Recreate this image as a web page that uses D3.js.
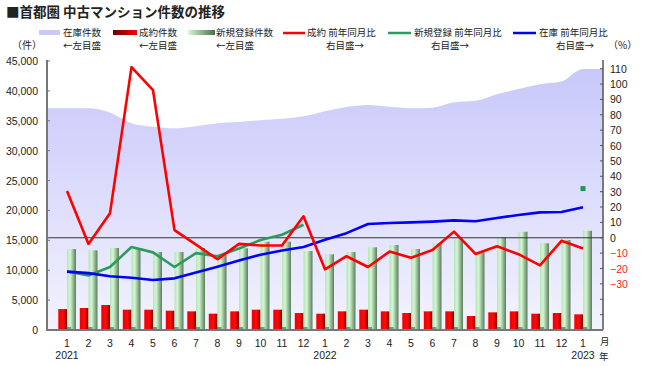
<!DOCTYPE html>
<html lang="ja">
<head>
<meta charset="utf-8">
<title>首都圏 中古マンション件数の推移</title>
<script src="https://d3js.org/d3.v7.min.js"></script>
<style>
    body { margin: 0; background: #fff; }
    svg text { font-family: "Noto Sans CJK JP", "Liberation Sans", sans-serif; fill: #222; }
    .num { font-family: "Liberation Sans", Arial, sans-serif; font-size: 10.5px; }
</style>
</head>
<body>
<div id="chart"></div>
<script>
    // month labels, Jan 2021 .. Jan 2023
    var months = ["1","2","3","4","5","6","7","8","9","10","11","12",
                  "1","2","3","4","5","6","7","8","9","10","11","12","1"];
    var years = [[0, "2021"], [12, "2022"], [24, "2023"]];

    // 在庫件数 (left axis)
    var stock = [37100, 37100, 36400, 34600, 34000, 33750, 34100, 34600, 34800, 35100, 35350, 35750,
                 36600, 37300, 37650, 37350, 37100, 37200, 38100, 38350, 39450, 40300, 41100, 41550, 43650];
    // 成約件数 (left axis)
    var deals = [3500, 3680, 4180, 3400, 3400, 3230, 3120, 2730, 3120, 3400, 3400, 2840,
                 2730, 3120, 3400, 3120, 2840, 3120, 3120, 2340, 2950, 3120, 2730, 2840, 2620];
    // 新規登録件数 (left axis)
    var listings = [13550, 13330, 13720, 13500, 13050, 13050, 13720, 12550, 13660, 14770, 14770, 13220,
                    12660, 13050, 13830, 14220, 13550, 14500, 15340, 13100, 15500, 16440, 14500, 15050, 16600];
    // 前年同月比 (right axis, %)
    var dealsYoY = [30.5, -4, 16, 111, 96, 5, -4.5, -14, -4, -5, -5, 14,
                    -20.5, -12, -19, -9, -13, -8, 4, -10.5, -5.5, -10.7, -18, -2, -7];
    var listingsYoY = [-22, -24.5, -19, -6, -9.5, -19, -10, -12, -7, -1.5, 2, 8.5,
                       null, null, null, null, null, null, null, null, null, null, null, null, 32];
    var stockYoY = [-22, -23, -25, -26, -27.5, -26.4, -22.6, -18.8, -14.8, -11, -8.3, -6,
                    -1.3, 3, 9, 9.6, 10, 10.5, 11.3, 10.7, 12.9, 14.8, 16.5, 16.8, 19.8];

    var leftTicks = d3.range(0, 45001, 5000);
    var rightTicks = d3.range(-60, 111, 10);

    var W = 650, H = 366;
    var plotL = 47, plotR = 603, plotT = 61, plotB = 330;

    var svg = d3.select("#chart").append("svg")
        .attr("width", W)
        .attr("height", H);

    var defs = svg.append("defs");

    var areaGrad = defs.append("linearGradient").attr("id", "areaGrad")
        .attr("x1", 0).attr("y1", 0).attr("x2", 0).attr("y2", 1);
    areaGrad.append("stop").attr("offset", "0%").attr("stop-color", "#c8c8fa");
    areaGrad.append("stop").attr("offset", "100%").attr("stop-color", "#f3f3ff");

    var redGrad = defs.append("linearGradient").attr("id", "redGrad")
        .attr("x1", 0).attr("y1", 0).attr("x2", 1).attr("y2", 0);
    redGrad.append("stop").attr("offset", "0%").attr("stop-color", "#ee0000");
    redGrad.append("stop").attr("offset", "55%").attr("stop-color", "#ff0a0a");
    redGrad.append("stop").attr("offset", "100%").attr("stop-color", "#8a0000");

    var greenGrad = defs.append("linearGradient").attr("id", "greenGrad")
        .attr("x1", 0).attr("y1", 0).attr("x2", 1).attr("y2", 0);
    greenGrad.append("stop").attr("offset", "0%").attr("stop-color", "#b4e6b4");
    greenGrad.append("stop").attr("offset", "35%").attr("stop-color", "#d4f6d4");
    greenGrad.append("stop").attr("offset", "100%").attr("stop-color", "#587e58");

    var legRed = defs.append("linearGradient").attr("id", "legRed")
        .attr("x1", 0).attr("y1", 0).attr("x2", 1).attr("y2", 0);
    legRed.append("stop").attr("offset", "0%").attr("stop-color", "#6a0000");
    legRed.append("stop").attr("offset", "100%").attr("stop-color", "#ff0000");

    var legGreen = defs.append("linearGradient").attr("id", "legGreen")
        .attr("x1", 0).attr("y1", 0).attr("x2", 1).attr("y2", 0);
    legGreen.append("stop").attr("offset", "0%").attr("stop-color", "#d8f8d8");
    legGreen.append("stop").attr("offset", "100%").attr("stop-color", "#4a6e4a");

    var x = d3.scalePoint()
        .domain(d3.range(months.length))
        .range([plotL, plotR])
        .padding(0.93);

    var y = d3.scaleLinear().domain([0, 45000]).range([plotB, plotT]);
    var y2 = d3.scaleLinear().domain([-60, 115]).range([plotB, plotT]);

    // title
    svg.append("text")
        .attr("x", 6).attr("y", 17)
        .style("font-size", "13.5px").style("font-weight", "bold")
        .text("■首都圏 中古マンション件数の推移");

    // inventory area (extends flat to both axes)
    var areaPts = [[plotL, stock[0]]]
        .concat(stock.map(function(d, i) { return [x(i), d]; }))
        .concat([[plotR, stock[stock.length - 1]]]);
    var area = d3.area()
        .x(function(d) { return d[0]; })
        .y0(plotB)
        .y1(function(d) { return y(d[1]); })
        .curve(d3.curveMonotoneX);
    svg.append("path")
        .datum(areaPts)
        .attr("d", area)
        .attr("fill", "url(#areaGrad)");

    // bars
    var bars = svg.append("g");
    bars.selectAll("rect.deal")
        .data(deals)
        .enter().append("rect")
        .attr("class", "deal")
        .attr("x", function(d, i) { return x(i) - 8.7; })
        .attr("width", 8.7)
        .attr("y", function(d) { return y(d); })
        .attr("height", function(d) { return plotB - y(d); })
        .attr("fill", "url(#redGrad)");
    bars.selectAll("rect.list")
        .data(listings)
        .enter().append("rect")
        .attr("class", "list")
        .attr("x", function(d, i) { return x(i); })
        .attr("width", 9)
        .attr("y", function(d) { return y(d); })
        .attr("height", function(d) { return plotB - y(d); })
        .attr("fill", "url(#greenGrad)");
    // dark base shadow
    bars.selectAll("rect.base")
        .data(listings)
        .enter().append("rect")
        .attr("class", "base")
        .attr("x", function(d, i) { return x(i) - 1; })
        .attr("width", 5)
        .attr("y", plotB - 3)
        .attr("height", 3)
        .attr("fill", "#3a4a3a")
        .attr("opacity", 0.55);

    // 0% line
    svg.append("line")
        .attr("x1", plotL).attr("x2", plotR)
        .attr("y1", y2(0)).attr("y2", y2(0))
        .attr("stroke", "#333").attr("stroke-width", 1.2);

    // YoY lines
    function drawLine(data, color) {
        var line = d3.line()
            .defined(function(d) { return d != null; })
            .x(function(d, i) { return x(i); })
            .y(function(d) { return y2(d); });
        svg.append("path")
            .datum(data)
            .attr("d", line)
            .attr("fill", "none")
            .attr("stroke", color)
            .attr("stroke-width", 2.6)
            .attr("stroke-linejoin", "round");
    }
    drawLine(listingsYoY.slice(0, 12), "#2e9a5e");
    drawLine(stockYoY, "#0000ff");
    drawLine(dealsYoY, "#ff0000");

    // lone listing YoY point
    var last = listingsYoY.length - 1;
    svg.append("rect")
        .attr("x", x(last) - 2.5).attr("y", y2(listingsYoY[last]) - 2.5)
        .attr("width", 5).attr("height", 5)
        .attr("fill", "#1a9a50");

    // left axis
    svg.append("line")
        .attr("x1", plotL).attr("x2", plotL).attr("y1", plotT - 1).attr("y2", plotB)
        .attr("stroke", "#777").attr("stroke-width", 2);
    svg.selectAll("line.lt")
        .data(leftTicks)
        .enter().append("line")
        .attr("class", "lt")
        .attr("x1", plotL).attr("x2", plotL + 3)
        .attr("y1", function(d) { return y(d); })
        .attr("y2", function(d) { return y(d); })
        .attr("stroke", "#777");
    svg.selectAll("text.lt")
        .data(leftTicks)
        .enter().append("text")
        .attr("class", "num lt")
        .attr("x", 38)
        .attr("y", function(d) { return y(d) + 4; })
        .attr("text-anchor", "end")
        .text(d3.format(","));

    // right axis
    svg.append("line")
        .attr("x1", plotR).attr("x2", plotR).attr("y1", plotT - 1).attr("y2", plotB)
        .attr("stroke", "#555").attr("stroke-width", 1.5);
    svg.selectAll("line.rt")
        .data(rightTicks)
        .enter().append("line")
        .attr("class", "rt")
        .attr("x1", plotR - 3).attr("x2", plotR)
        .attr("y1", function(d) { return y2(d); })
        .attr("y2", function(d) { return y2(d); })
        .attr("stroke", "#555");
    svg.selectAll("text.rt")
        .data(rightTicks.filter(function(d) { return d >= -30; }))
        .enter().append("text")
        .attr("class", "num rt")
        .attr("x", 610)
        .attr("y", function(d) { return y2(d) + 4; })
        .style("fill", function(d) { return d < 0 ? "#ff2020" : "#222"; })
        .text(function(d) { return d < 0 ? "\u2212" + (-d) : d; });

    // x axis
    svg.append("line")
        .attr("x1", plotL - 1).attr("x2", plotR).attr("y1", plotB).attr("y2", plotB)
        .attr("stroke", "#777").attr("stroke-width", 2);
    svg.selectAll("text.mon")
        .data(months)
        .enter().append("text")
        .attr("class", "num mon")
        .attr("x", function(d, i) { return x(i); })
        .attr("y", 347)
        .attr("text-anchor", "middle")
        .text(function(d) { return d; });
    svg.selectAll("text.yr")
        .data(years)
        .enter().append("text")
        .attr("class", "num yr")
        .attr("x", function(d) { return x(d[0]); })
        .attr("y", 359)
        .attr("text-anchor", "middle")
        .text(function(d) { return d[1]; });
    svg.append("text").attr("x", 600).attr("y", 345).style("font-size", "9.5px").text("月");
    svg.append("text").attr("x", 599).attr("y", 360).style("font-size", "9.5px").text("年");

    // unit labels
    svg.append("text").attr("x", 12).attr("y", 49).style("font-size", "10px").text("（件）");
    svg.append("text").attr("x", 608).attr("y", 49).style("font-size", "10px").text("（%）");

    // legend
    var lg = svg.append("g").style("font-size", "9.5px");
    lg.append("rect").attr("x", 39).attr("y", 30).attr("width", 21).attr("height", 5).attr("fill", "#c8c8fa");
    lg.append("rect").attr("x", 113).attr("y", 30).attr("width", 24).attr("height", 5).attr("fill", "url(#legRed)");
    lg.append("rect").attr("x", 188).attr("y", 30).attr("width", 27).attr("height", 5).attr("fill", "url(#legGreen)");
    lg.append("line").attr("x1", 283).attr("x2", 305).attr("y1", 33).attr("y2", 33).attr("stroke", "#ff0000").attr("stroke-width", 2.5);
    lg.append("line").attr("x1", 388).attr("x2", 411).attr("y1", 33).attr("y2", 33).attr("stroke", "#2e9a5e").attr("stroke-width", 2.5);
    lg.append("line").attr("x1", 513).attr("x2", 536).attr("y1", 33).attr("y2", 33).attr("stroke", "#0000ff").attr("stroke-width", 2.5);

    var legText = [
        [63, 36, "start", "在庫件数"], [63, 49, "start", "←左目盛"],
        [139, 36, "start", "成約件数"], [139, 49, "start", "←左目盛"],
        [216, 36, "start", "新規登録件数"], [216, 49, "start", "←左目盛"],
        [307, 36, "start", "成約 前年同月比"], [345, 49, "middle", "右目盛→"],
        [414, 36, "start", "新規登録 前年同月比"], [450, 49, "middle", "右目盛→"],
        [539, 36, "start", "在庫 前年同月比"], [575, 49, "middle", "右目盛→"]
    ];
    lg.selectAll("text")
        .data(legText)
        .enter().append("text")
        .attr("x", function(d) { return d[0]; })
        .attr("y", function(d) { return d[1]; })
        .attr("text-anchor", function(d) { return d[2]; })
        .text(function(d) { return d[3]; });
</script>
</body>
</html>
